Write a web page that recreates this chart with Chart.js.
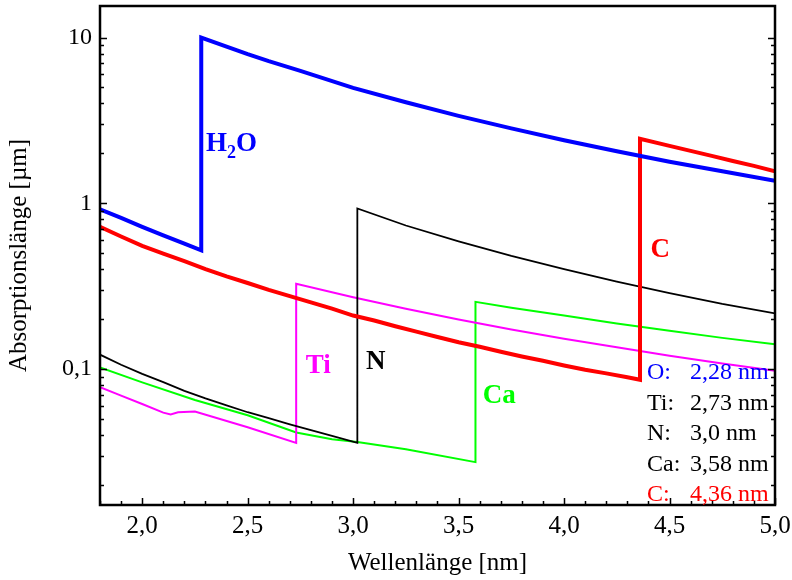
<!DOCTYPE html>
<html lang="de">
<head>
  <meta charset="UTF-8" />
  <title>Absorptionslänge</title>
  <script src="https://cdn.jsdelivr.net/npm/chart.js@4"></script>
  <style>
    html, body { margin: 0; padding: 0; background: #fff; }
    #wrap { width: 792px; height: 580px; }
  </style>
</head>
<body>
  <div id="wrap"><canvas id="absChart" width="792" height="580"></canvas></div>

  <script>
    // Wellenlänge [nm] -> Absorptionslänge [µm], Kanten doppelt eingetragen
    const h2oX = [1.80, 1.90, 2.00, 2.10, 2.20, 2.28, 2.28, 2.40, 2.50, 2.60, 2.75, 3.00, 3.25, 3.50, 3.75, 4.00, 4.25, 4.50, 4.75, 5.00];
    const h2oY = [0.92, 0.815, 0.72, 0.64, 0.57, 0.52, 10.0, 8.8, 7.93, 7.2, 6.3, 4.97, 4.07, 3.37, 2.83, 2.40, 2.06, 1.78, 1.56, 1.365];

    const cX = [1.80, 1.90, 2.00, 2.10, 2.20, 2.30, 2.40, 2.50, 2.60, 2.70, 2.80, 2.90, 3.00, 3.10, 3.20, 3.30, 3.40, 3.50, 3.60, 3.70, 3.80, 3.90, 4.00, 4.10, 4.20, 4.30, 4.36, 4.36, 4.50, 4.60, 4.70, 4.80, 4.90, 5.00];
    const cY = [0.72, 0.63, 0.553, 0.497, 0.447, 0.40, 0.362, 0.33, 0.30, 0.275, 0.252, 0.231, 0.21, 0.196, 0.181, 0.168, 0.156, 0.145, 0.136, 0.127, 0.119, 0.112, 0.105, 0.099, 0.094, 0.089, 0.086, 2.45, 2.22, 2.07, 1.93, 1.80, 1.68, 1.56];

    const nX = [1.80, 1.90, 2.00, 2.10, 2.20, 2.30, 2.40, 2.50, 2.60, 2.70, 2.80, 2.90, 3.02, 3.02, 3.25, 3.50, 3.75, 4.00, 4.25, 4.50, 4.75, 5.00];
    const nY = [0.122, 0.106, 0.0933, 0.0832, 0.0738, 0.0664, 0.0603, 0.0548, 0.0505, 0.0463, 0.0427, 0.0394, 0.0358, 0.93, 0.734, 0.589, 0.481, 0.40, 0.336, 0.287, 0.247, 0.2165];

    const tiX = [1.80, 1.90, 2.00, 2.10, 2.135, 2.17, 2.25, 2.50, 2.73, 2.73, 3.00, 3.25, 3.50, 3.75, 4.00, 4.25, 4.50, 4.75, 5.00];
    const tiY = [0.0776, 0.069, 0.0614, 0.0545, 0.0532, 0.0547, 0.0553, 0.0445, 0.0358, 0.327, 0.271, 0.231, 0.199, 0.173, 0.152, 0.135, 0.120, 0.108, 0.0975];

    const caX = [1.80, 2.00, 2.25, 2.50, 2.73, 2.90, 3.02, 3.25, 3.58, 3.58, 3.75, 4.00, 4.25, 4.50, 4.75, 5.00];
    const caY = [0.102, 0.083, 0.065, 0.0525, 0.0414, 0.0377, 0.0362, 0.0328, 0.0274, 0.254, 0.234, 0.21, 0.188, 0.170, 0.154, 0.141];

    const xTicks = [2.0, 2.5, 3.0, 3.5, 4.0, 4.5, 5.0];
    const yTicks = [0.1, 1, 10];

    const edgeNames = ['O:', 'Ti:', 'N:', 'Ca:', 'C:'];
    const edgeValues = ['2,28 nm', '2,73 nm', '3,0 nm', '3,58 nm', '4,36 nm'];

    const pts = (xs, ys) => xs.map((v, i) => ({ x: v, y: ys[i] }));
    const serif = '"Liberation Serif", "Times New Roman", serif';

    // Beschriftungen an den Kurven (Datenkoordinaten, linke Grundlinie)
    const curveLabels = [
      { text: 'H', sub: '2', after: 'O', x: 2.302, y: 2.07, color: '#0000ff' },
      { text: 'C', x: 4.41, y: 0.477, color: '#ff0000' },
      { text: 'Ti', x: 2.775, y: 0.0946, color: '#ff00ff' },
      { text: 'N', x: 3.061, y: 0.100, color: '#000000' },
      { text: 'Ca', x: 3.614, y: 0.0625, color: '#00ff00' }
    ];
    const edgeColors = ['#0000ff', '#000000', '#000000', '#000000', '#ff0000'];

    const decor = {
      id: 'decor',
      afterDraw(chart) {
        const { ctx, chartArea: a, scales: { x, y } } = chart;
        ctx.save();

        // Striche nach innen
        ctx.strokeStyle = '#000';
        ctx.lineWidth = 1.5;
        ctx.beginPath();
        for (let i = 18; i <= 50; i++) {
          const px = Math.round(x.getPixelForValue(i / 10)) + 0.5;
          const len = i % 5 === 0 ? 7 : 4;
          ctx.moveTo(px, a.bottom);
          ctx.lineTo(px, a.bottom - len);
        }
        for (let e = -2; e <= 1; e++) {
          for (let m = 1; m <= 9; m++) {
            const v = m * Math.pow(10, e);
            if (v < y.min || v > y.max) continue;
            const py = Math.round(y.getPixelForValue(v)) + 0.5;
            const len = m === 1 ? 7 : 4;
            ctx.moveTo(a.left, py);
            ctx.lineTo(a.left + len, py);
            ctx.moveTo(a.right, py);
            ctx.lineTo(a.right - len, py);
          }
        }
        ctx.stroke();

        ctx.lineWidth = 2.5;
        ctx.strokeRect(a.left, a.top, a.right - a.left, a.bottom - a.top);

        // Kurvennamen
        ctx.textBaseline = 'alphabetic';
        ctx.textAlign = 'left';
        curveLabels.forEach(l => {
          let px = x.getPixelForValue(l.x);
          const py = y.getPixelForValue(l.y);
          ctx.fillStyle = l.color;
          ctx.font = 'bold 27px ' + serif;
          ctx.fillText(l.text, px, py);
          if (l.sub) {
            px += ctx.measureText(l.text).width;
            ctx.font = 'bold 18px ' + serif;
            ctx.fillText(l.sub, px, py + 7);
            px += ctx.measureText(l.sub).width;
            ctx.font = 'bold 27px ' + serif;
            ctx.fillText(l.after, px, py);
          }
        });

        // Kantenliste unten rechts
        ctx.font = '24px ' + serif;
        edgeNames.forEach((name, i) => {
          const by = a.bottom - 126 + i * 30.5;
          ctx.fillStyle = edgeColors[i];
          ctx.fillText(name, a.right - 128, by);
          ctx.fillText(edgeValues[i], a.right - 85, by);
        });
        ctx.restore();
      }
    };

    new Chart(document.getElementById('absChart'), {
      type: 'scatter',
      data: {
        datasets: [
          { label: 'H2O', data: pts(h2oX, h2oY), borderColor: '#0000ff', borderWidth: 4 },
          { label: 'C', data: pts(cX, cY), borderColor: '#ff0000', borderWidth: 4 },
          { label: 'N', data: pts(nX, nY), borderColor: '#000000', borderWidth: 1.8 },
          { label: 'Ti', data: pts(tiX, tiY), borderColor: '#ff00ff', borderWidth: 2 },
          { label: 'Ca', data: pts(caX, caY), borderColor: '#00ff00', borderWidth: 2 }
        ].map(d => Object.assign(d, { showLine: true, pointRadius: 0, tension: 0, fill: false }))
      },
      options: {
        responsive: false,
        animation: false,
        events: [],
        layout: { padding: { left: 0, right: 17, top: 6, bottom: 0 } },
        plugins: { legend: { display: false }, tooltip: { enabled: false } },
        scales: {
          x: {
            type: 'linear',
            min: 1.8,
            max: 5.0,
            grid: { display: false, drawTicks: false },
            border: { display: false },
            afterBuildTicks: s => { s.ticks = xTicks.map(v => ({ value: v })); },
            afterFit: s => { s.height = 75; s.paddingLeft = 0; s.paddingRight = 0; },
            ticks: {
              padding: 6,
              maxRotation: 0,
              color: '#000',
              font: { family: serif, size: 25 },
              callback: v => v.toFixed(1).replace('.', ',')
            },
            title: {
              display: true,
              text: 'Wellenlänge [nm]',
              color: '#000',
              font: { family: serif, size: 25, lineHeight: 1.2 },
              padding: { top: 0, bottom: 2 }
            }
          },
          y: {
            type: 'logarithmic',
            min: 0.0151,
            max: 15.5,
            grid: { display: false, drawTicks: false },
            border: { display: false },
            afterBuildTicks: s => { s.ticks = yTicks.map(v => ({ value: v })); },
            afterFit: s => { s.width = 100; s.paddingTop = 0; s.paddingBottom = 0; },
            ticks: {
              padding: 8,
              color: '#000',
              font: { family: serif, size: 24 },
              callback: v => String(v).replace('.', ',')
            },
            title: {
              display: true,
              text: 'Absorptionslänge [µm]',
              color: '#000',
              font: { family: serif, size: 25, lineHeight: 1.2 },
              padding: { top: 4.5, bottom: 0 }
            }
          }
        }
      },
      plugins: [decor]
    });
  </script>
</body>
</html>
